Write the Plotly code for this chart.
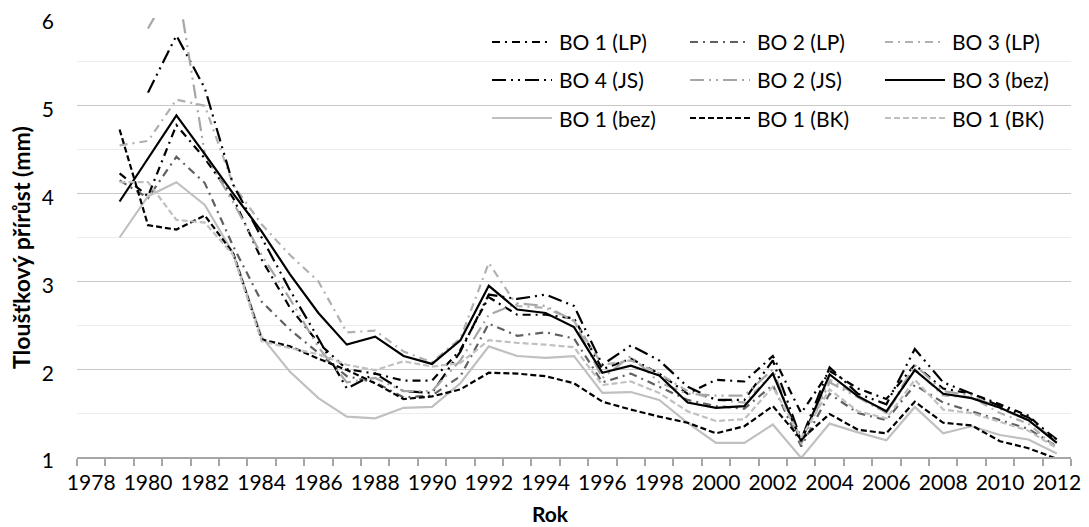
"""
Tloušťkový přírůst (diameter increment) by year for the BO plots.

Excel-style greyscale line chart, recreated in Plotly.
"""

import plotly.graph_objects as go

# ---- data -------------------------------------------------------------
years = list(range(1979, 2013))
tick_years = list(range(1978, 2013, 2))
tick_labels = [str(y) for y in tick_years]

series_names = [
    "BO 1 (LP)", "BO 2 (LP)", "BO 3 (LP)",
    "BO 4 (JS)", "BO 2 (JS)", "BO 3 (bez)",
    "BO 1 (bez)", "BO 1 (BK)", "BO 1 (BK)",
]

bo1_lp = [4.23, 3.97, 4.78, 4.40, 3.95, 3.25, 2.70, 2.30, 2.00, 1.95, 1.87, 1.87,
          2.22, 2.82, 2.62, 2.62, 2.58, 2.00, 2.12, 1.95, 1.72, 1.88, 1.86, 2.15,
          1.50, 1.98, 1.78, 1.66, 2.05, 1.78, 1.72, 1.60, 1.47, 1.18]
bo2_lp = [4.15, 3.95, 4.42, 4.12, 3.40, 2.77, 2.45, 2.18, 1.92, 1.85, 1.68, 1.70,
          1.92, 2.52, 2.38, 2.42, 2.35, 1.85, 1.95, 1.80, 1.65, 1.58, 1.55, 1.82,
          1.12, 1.72, 1.50, 1.42, 1.82, 1.62, 1.52, 1.42, 1.32, 1.12]
bo3_lp = [4.55, 4.60, 5.07, 5.00, 4.10, 3.65, 3.30, 3.00, 2.42, 2.44, 2.20, 2.08,
          2.35, 3.21, 2.72, 2.70, 2.55, 2.05, 2.10, 1.95, 1.75, 1.65, 1.62, 1.95,
          1.20, 1.88, 1.70, 1.50, 2.00, 1.70, 1.68, 1.50, 1.38, 1.10]
bo4_js = [None, 5.15, 5.80, 5.20, 4.10, 3.50, 2.90, 2.35, 1.78, 1.95, 1.75, 1.73,
          2.20, 2.85, 2.80, 2.85, 2.72, 2.05, 2.27, 2.10, 1.80, 1.65, 1.65, 2.10,
          1.20, 2.02, 1.72, 1.60, 2.23, 1.85, 1.72, 1.58, 1.45, 1.20]
bo2_js = [None, 5.88, 6.45, 4.45, 3.90, 3.30, 2.80, 2.25, 1.85, 1.90, 1.75, 1.75,
          2.10, 2.62, 2.75, 2.72, 2.55, 1.90, 2.15, 1.85, 1.72, 1.70, 1.70, 2.00,
          1.15, 1.85, 1.68, 1.50, 2.05, 1.75, 1.70, 1.55, 1.42, 1.18]
bo3_bez = [3.91, 4.40, 4.89, 4.45, 4.00, 3.57, 3.08, 2.64, 2.28, 2.37, 2.15, 2.06,
           2.33, 2.95, 2.68, 2.64, 2.48, 1.96, 2.04, 1.93, 1.62, 1.56, 1.58, 1.95,
           1.18, 1.94, 1.69, 1.52, 1.99, 1.72, 1.67, 1.56, 1.42, 1.16]
bo1_bez = [3.50, 3.97, 4.13, 3.87, 3.32, 2.37, 1.97, 1.67, 1.46, 1.44, 1.56, 1.57,
           1.84, 2.26, 2.15, 2.13, 2.15, 1.73, 1.74, 1.65, 1.39, 1.16, 1.16, 1.37,
           0.99, 1.38, 1.28, 1.19, 1.57, 1.27, 1.35, 1.25, 1.20, 1.04]
bo1_bk_black = [4.73, 3.64, 3.59, 3.75, 3.32, 2.34, 2.26, 2.12, 1.99, 1.84, 1.66, 1.69,
                1.77, 1.96, 1.95, 1.92, 1.84, 1.63, 1.54, 1.46, 1.39, 1.27, 1.35, 1.58,
                1.20, 1.49, 1.31, 1.27, 1.63, 1.39, 1.36, 1.18, 1.10, 0.98]
bo1_bk_gray = [4.13, 4.13, 3.70, 3.67, 3.30, 2.32, 2.24, 2.17, 2.05, 1.99, 2.09, 2.03,
               2.07, 2.33, 2.30, 2.28, 2.25, 1.82, 1.86, 1.73, 1.52, 1.41, 1.43, 1.80,
               1.22, 1.77, 1.52, 1.44, 1.88, 1.54, 1.50, 1.40, 1.30, 1.10]

series_values = [bo1_lp, bo2_lp, bo3_lp, bo4_js, bo2_js, bo3_bez,
                 bo1_bez, bo1_bk_black, bo1_bk_gray]

# ---- styles -----------------------------------------------------------
DASH_DOT = "8px,5px,2px,5px"
DASH_DOT_DOT = "14px,5px,2px,5px,2px,5px"
DASHED = "6px,3px"

styles = [
    dict(color="#000000", dash=DASH_DOT),
    dict(color="#606060", dash=DASH_DOT),
    dict(color="#b0b0b0", dash=DASH_DOT),
    dict(color="#000000", dash=DASH_DOT_DOT),
    dict(color="#a6a6a6", dash=DASH_DOT_DOT),
    dict(color="#000000", dash="solid"),
    dict(color="#c0c0c0", dash="solid"),
    dict(color="#000000", dash=DASHED),
    dict(color="#c0c0c0", dash=DASHED),
]

FONT = "Lato, Carlito, 'Open Sans', sans-serif"
FS = 21
# the page body adds an 8px margin, so the figure is drawn 8px smaller
# and every screen position below is shifted back by that amount
PAGE = 8
W, H = 1089 - PAGE, 527 - PAGE
M = dict(l=77 - PAGE, r=18, t=18 - PAGE, b=70)

fig = go.Figure()
for name, vals, st in zip(series_names, series_values, styles):
    fig.add_trace(
        go.Scatter(
            x=years,
            y=vals,
            mode="lines",
            name=name,
            line=dict(color=st["color"], dash=st["dash"], width=2.2),
            showlegend=False,
            hovertemplate="%{x}: %{y:.2f}<extra>" + name + "</extra>",
        )
    )

pw = W - M["l"] - M["r"]
ph = H - M["t"] - M["b"]


def px_x(x):
    # screen x -> paper x
    return (x - PAGE - M["l"]) / pw


def px_y(y):
    # screen y -> paper y
    return (H - M["b"] - (y - PAGE)) / ph


# ---- legend (3x3 grid, drawn by hand, Excel-like long samples) ---------
col_line_x = [492, 690, 885]
col_text_x = [557, 755, 950]
row_y = [42, 80, 118]

for i, (name, st) in enumerate(zip(series_names, styles)):
    r, c = divmod(i, 3)
    y = px_y(row_y[r])
    fig.add_shape(
        type="line",
        xref="paper", yref="paper",
        x0=px_x(col_line_x[c]), x1=px_x(col_line_x[c] + 60), y0=y, y1=y,
        line=dict(color=st["color"], dash=st["dash"], width=2.2),
    )
    fig.add_annotation(
        xref="paper", yref="paper",
        x=px_x(col_text_x[c]), y=y,
        text=name, showarrow=False,
        xanchor="left", yanchor="middle",
        font=dict(size=FS, color="#000000", family=FONT),
    )

# ---- axis titles (Excel centres them on the chart, not the plot) -------
fig.add_annotation(
    xref="paper", yref="paper",
    x=px_x(550), y=px_y(513),
    text="<b>Rok</b>", showarrow=False,
    xanchor="center", yanchor="middle",
    font=dict(size=FS, color="#000000", family=FONT),
)
fig.add_annotation(
    xref="paper", yref="paper",
    x=px_x(21), y=px_y(248),
    text="<b>Tloušťkový přírůst (mm)</b>", showarrow=False,
    textangle=-90,
    xanchor="center", yanchor="middle",
    font=dict(size=23, color="#000000", family=FONT),
)

fig.update_layout(
    width=W,
    height=H,
    margin=M,
    paper_bgcolor="white",
    plot_bgcolor="white",
    font=dict(family=FONT, size=FS, color="#000000"),
    showlegend=False,
)
fig.update_xaxes(
    range=[1977.5, 2012.5],
    automargin=False,
    tickmode="array",
    tickvals=tick_years,
    ticktext=tick_labels,
    ticks="",
    ticklabelstandoff=6,
    ticklabeloverflow="allow",
    showgrid=False,
    zeroline=False,
    showline=True,
    linecolor="#a6a6a6",
    linewidth=1.5,
    minor=dict(tick0=1977.5, dtick=1, ticks="outside", ticklen=7,
               tickcolor="#a6a6a6", tickwidth=1.5, showgrid=False),
)
fig.update_yaxes(
    range=[1, 6],
    automargin=False,
    dtick=1,
    ticks="",
    ticklabelstandoff=22,
    ticklabelshift=4,
    ticklabeloverflow="allow",
    showgrid=True,
    gridcolor="#c8c8c8",
    gridwidth=1.3,
    zeroline=False,
    showline=False,
    minor=dict(dtick=0.5, showgrid=True, gridcolor="#ececec", gridwidth=1),
)

fig.write_html("out.html")
